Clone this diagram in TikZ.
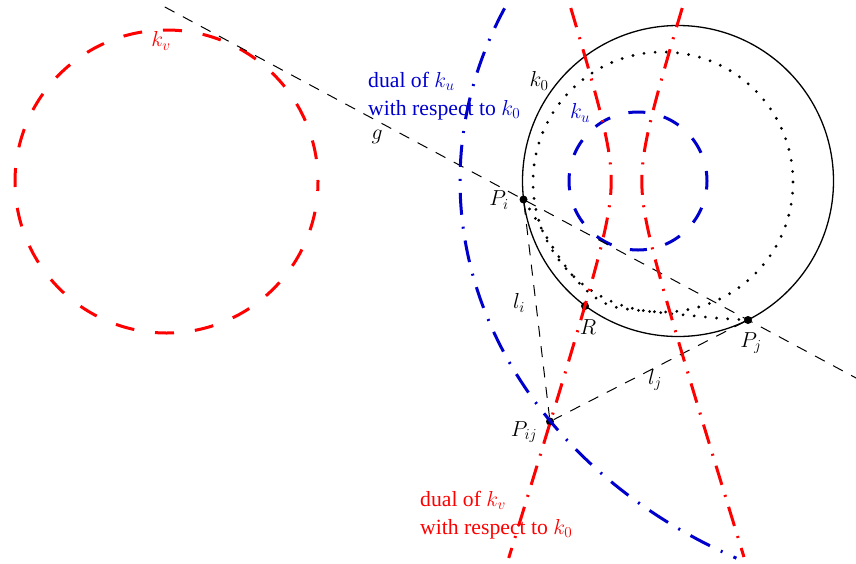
\documentclass[tikz,border=0pt]{standalone}
\usepackage{fix-cm}
\usepackage{fontspec}
\setmainfont{Liberation Serif}
\usetikzlibrary{calc}
\definecolor{myred}{RGB}{255,0,0}
\definecolor{myblue}{RGB}{0,0,205}
\begin{document}
\begin{tikzpicture}[x=1pt,y=-1pt,
  lab/.style={inner sep=0pt, font=\fontsize{21.7}{28}\selectfont},
  blackdash/.style={line width=1pt, dash pattern=on 11pt off 9.5pt},
  circleline/.style={line width=1.3pt},
  dotline/.style={line width=3.1pt, line cap=round, dash pattern=on 0pt off 11.2pt},
  kvdash/.style={myred, line width=3pt, dash pattern=on 19pt off 21pt, dash phase=9.5pt},
  kudash/.style={myblue, line width=3pt, dash pattern=on 17pt off 19pt, dash phase=8.5pt},
  reddashdot/.style={myred, line width=3pt, dash pattern=on 20pt off 10.5pt on 2pt off 10.5pt},
  bluedashdot/.style={myblue, line width=3pt, dash pattern=on 22pt off 12pt on 2pt off 12pt},
  ptdot/.style={circle, fill=black, inner sep=0pt, minimum size=8pt}
]
\useasboundingbox (0,0) rectangle (856,563);

% centres
\coordinate (O) at (678,181);
\coordinate (Cd) at (663,182);
\coordinate (Cu) at (638,181);
\coordinate (Cv) at (166.5,181.5);

% circles
\draw[circleline] (O) circle[radius=155.5];
\draw[dotline] (Cd) circle[radius=130];
\draw[kudash] (Cu) circle[radius=69];
\draw[kvdash] (Cv) circle[radius=151.5];

% points
\node[ptdot] (Pi) at (523.5,199.5) {};
\node[ptdot] (Pj) at (748,320) {};
\node[ptdot] (Pij) at (550,421.5) {};
\node[ptdot] (R) at (585,306) {};

% dotted arc from Pi to Pj
\draw[dotline] plot[smooth, tension=0.6] coordinates {(523.5,199.5) (537,221) (552,246) (566,267) (580,284) (596,298) (615,307) (645,311) (680,314.5) (716,318) (748,320)};

% line g and tangents
\coordinate (gA) at ($(Pi)!-1.598!(Pj)$);
\coordinate (gB) at ($(Pi)!1.482!(Pj)$);
\draw[blackdash] (gA) -- (gB);
\draw[blackdash] (Pi) -- (Pij);
\draw[blackdash] (Pj) -- (Pij);

% dual of k_v: hyperbola branches
\draw[reddashdot] plot[domain=8:558, samples=140, variable=\t]
  ({626.5-15.3*sqrt(1+((\t-181)/49.4)^2)}, \t);
\draw[reddashdot] plot[domain=8:557, samples=140, variable=\t]
  ({626.5+15.3*sqrt(1+((\t-181)/49.4)^2)}, \t);

% dual of k_u: ellipse arc
\draw[bluedashdot] plot[domain=203.8:118.2, samples=160, variable=\t]
  ({984+524*cos(\t)}, {181+428*sin(\t)});

% labels
\node[lab, text=myblue, align=left, anchor=north west] (dualu) at (368,72) {dual of $k_u$\\with respect to $k_0$};
\node[lab, text=myred, align=left, anchor=north west] (dualv) at (420,491) {dual of $k_v$\\with respect to $k_0$};
\node[lab] (lk0) at (539,81) {$k_0$};
\node[lab, text=myblue] (lku) at (580,113) {$k_u$};
\node[lab, text=myred] (lkv) at (161,41) {$k_v$};
\node[lab] (lg) at (377,137) {$g$};
\node[lab] (lPi) at (499,200) {$P_i$};
\node[lab] (lPj) at (751,343) {$P_j$};
\node[lab] (lPij) at (524,432) {$P_{ij}$};
\node[lab] (lR) at (588,327) {$R$};
\node[lab] (lli) at (519,303) {$l_i$};
\node[lab] (llj) at (655,380) {$l_j$};
\end{tikzpicture}
\end{document}
